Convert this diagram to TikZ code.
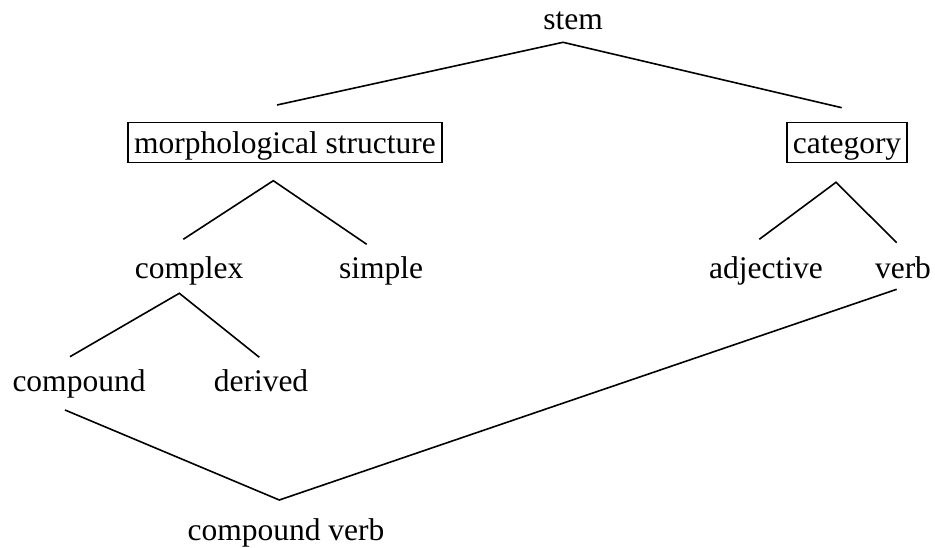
\documentclass[tikz,border=0pt]{standalone}
\usepackage{fontspec}
\setmainfont{Liberation Serif}
\begin{document}
\begin{tikzpicture}[x=1pt,y=-1pt,
  label/.style={font=\fontsize{31.5}{38}\selectfont, inner sep=0pt, anchor=base},
  boxed/.style={label, draw, line width=1.5pt, inner xsep=6pt, inner ysep=0pt,
                text height=30.6pt, text depth=9.4pt},
  branch/.style={line width=1.6pt}]
\useasboundingbox (0,0) rectangle (935,548);

% labels
\node[label] (stem)     at (573,30)    {stem};
\node[boxed] (morph)    at (285,153.3) {morphological structure};
\node[boxed] (category) at (847,153.3) {category};
\node[label] (complex)  at (189,278.3) {complex};
\node[label] (simple)   at (381,278.3) {simple};
\node[label] (adj)      at (766,278.3) {adjective};
\node[label] (verb)     at (903,278.3) {verb};
\node[label] (compound) at (79,391.7)  {compound};
\node[label] (derived)  at (261,391.7) {derived};
\node[label] (cverb)    at (286,540)   {compound verb};

% branch points
\coordinate (stemJ)     at (563,42.3);
\coordinate (morphUp)   at (277,105);
\coordinate (catUp)     at (841.7,107.7);
\coordinate (morphJ)    at (273.3,180.7);
\coordinate (complexUp) at (183.3,239.3);
\coordinate (simpleUp)  at (366.7,244.3);
\coordinate (catJ)      at (836,182.3);
\coordinate (adjUp)     at (759.3,239.3);
\coordinate (verbUp)    at (896.7,242.7);
\coordinate (complexJ)  at (179.3,293.3);
\coordinate (compUp)    at (70,356.7);
\coordinate (derivUp)   at (259.3,357.3);
\coordinate (compDown)  at (65,410);
\coordinate (verbDown)  at (896.7,289.3);
\coordinate (cverbJ)    at (279.3,500);

% tree branches
\draw[branch] (morphUp) -- (stemJ) -- (catUp);
\draw[branch] (complexUp) -- (morphJ) -- (simpleUp);
\draw[branch] (adjUp) -- (catJ) -- (verbUp);
\draw[branch] (compUp) -- (complexJ) -- (derivUp);
\draw[branch] (compDown) -- (cverbJ) -- (verbDown);
\end{tikzpicture}
\end{document}
